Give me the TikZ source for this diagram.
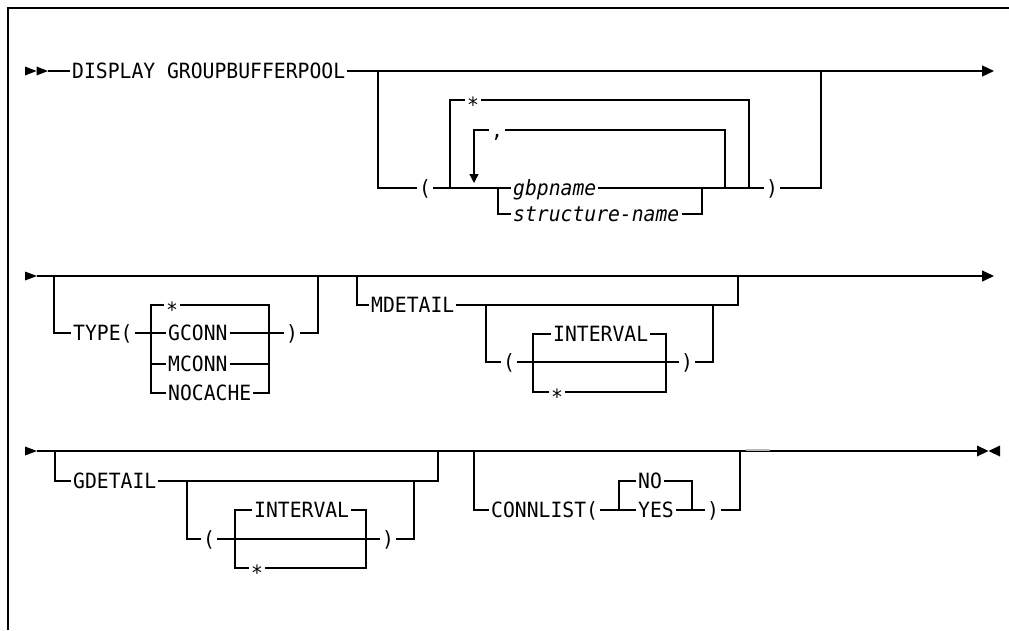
\documentclass[tikz,border=0pt]{standalone}
\usepackage{fontspec}
\usetikzlibrary{arrows.meta}
\newfontfamily\rrfont[FakeStretch=0.939]{DejaVu Sans Mono}
\begin{document}
\begin{tikzpicture}[x=1pt,y=-1pt,
  rail/.style={line width=1.3pt, line join=miter},
  kw/.style={font=\rrfont\fontsize{21}{25}\selectfont, inner xsep=1.5pt, inner ysep=0pt,
             text height=15.3pt, text depth=0pt, anchor=west},
  kwc/.style={kw, anchor=center},
  var/.style={kw, font=\rrfont\itshape\fontsize{21}{25}\selectfont},
  starnode/.style={kw, anchor=center, text height=24pt},
  endtip/.style={-{Triangle[length=12pt,width=11pt]}},
  looptip/.style={-{Triangle[length=9pt,width=9pt]}},
  headmark/.style={fill=black}
]
\useasboundingbox (0,0) rectangle (1009,630);
% frame
\draw[line width=2pt] (8,630) -- (8,8) -- (1009,8);

\begin{scope}[rail]
% ---------------- row 1 ----------------
\fill[headmark] (25,66.5) -- (36.5,71) -- (25,75.5) -- cycle;
\fill[headmark] (36.5,66.5) -- (48,71) -- (36.5,75.5) -- cycle;
\coordinate (s1) at (48,71);
\node[kw] (disp) at (70,71) {DISPLAY GROUPBUFFERPOOL};
\coordinate (e1) at (994,71);
\draw (s1) -- (disp.west);
\draw[endtip] (disp.east) -- (e1);
\coordinate (b1L) at (378,71);
\coordinate (b1R) at (821,71);
\node[kwc] (lp1) at (425,188) {(};
\node[var] (gbp) at (511,188) {gbpname};
\node[var] (sn) at (511,214) {structure-name};
\node[kwc] (rp1) at (772,188) {)};
\coordinate (j1a) at (450,188);
\coordinate (j1c) at (498,188);
\coordinate (j1d) at (702,188);
\coordinate (j1e) at (725,188);
\coordinate (j1f) at (749,188);
\coordinate (ar1) at (474,183);
\draw (b1L) |- (lp1.west);
\draw (lp1.east) -- (gbp.west);
\draw (gbp.east) -- (rp1.west);
\draw (rp1.east) -| (b1R);
\draw (j1c) |- (sn.west);
\draw (sn.east) -| (j1d);
\node[starnode] (st1) at (473,100) {*};
\draw (j1a) |- (st1.west);
\draw (st1.east) -| (j1f);
\node[kwc] (cm1) at (497,130) {,};
\draw (j1e) |- (cm1.east);
\draw[looptip] (cm1.west) -| (ar1);

% ---------------- row 2 ----------------
\fill[headmark] (25,271.5) -- (37,276) -- (25,280.5) -- cycle;
\coordinate (s2) at (37,276);
\coordinate (e2) at (994,276);
\draw[endtip] (s2) -- (e2);
\coordinate (b2a) at (54,276);
\coordinate (b2b) at (318,276);
\node[kw] (type) at (71,333) {TYPE(};
\node[starnode] (tst) at (172,305) {*};
\node[kw] (gconn) at (166,333) {GCONN};
\node[kw] (mconn) at (166,364) {MCONN};
\node[kw] (noc) at (166,393) {NOCACHE};
\node[kwc] (rp2) at (292,333) {)};
\coordinate (tLb) at (151,393);
\coordinate (tLm) at (151,364);
\coordinate (tRb) at (269,393);
\coordinate (tRm) at (269,364);
\draw (b2a) |- (type.west);
\draw (type.east) -- (gconn.west);
\draw (tst.west) -| (tLb) -- (noc.west);
\draw (tLm) -- (mconn.west);
\draw (tst.east) -| (tRb) -- (noc.east);
\draw (mconn.east) -- (tRm);
\draw (gconn.east) -- (rp2.west);
\draw (rp2.east) -| (b2b);
% MDETAIL
\coordinate (b2c) at (357,276);
\coordinate (b2d) at (738,276);
\node[kw] (md) at (369,305) {MDETAIL};
\draw (b2c) |- (md.west);
\draw (md.east) -| (b2d);
\coordinate (m1) at (486,305);
\coordinate (m2) at (713,305);
\node[kwc] (lp2) at (509,362) {(};
\node[kwc] (rp2b) at (687,362) {)};
\draw (m1) |- (lp2.west);
\draw (lp2.east) -- (rp2b.west);
\draw (rp2b.east) -| (m2);
\node[kw] (iv1) at (551,334) {INTERVAL};
\node[starnode] (ms) at (557,392) {*};
\coordinate (mlb) at (533,392);
\coordinate (mrb) at (666,392);
\draw (iv1.west) -| (mlb) -- (ms.west);
\draw (iv1.east) -| (mrb) -- (ms.east);

% ---------------- row 3 ----------------
\fill[headmark] (25,446.5) -- (37,451) -- (25,455.5) -- cycle;
\coordinate (s3) at (37,451);
\coordinate (e3) at (977,451);
\draw (s3) -- (e3);
\fill[headmark] (977,445.5) -- (988.5,451) -- (977,456.5) -- cycle;
\fill[headmark] (1000,445.5) -- (988.5,451) -- (1000,456.5) -- cycle;
\coordinate (b3a) at (55,451);
\coordinate (b3b) at (438,451);
\node[kw] (gd) at (71,481) {GDETAIL};
\draw (b3a) |- (gd.west);
\draw (gd.east) -| (b3b);
\coordinate (g1) at (187,481);
\coordinate (g2) at (414,481);
\node[kwc] (lp3) at (209,539) {(};
\node[kwc] (rp3) at (388,539) {)};
\draw (g1) |- (lp3.west);
\draw (lp3.east) -- (rp3.west);
\draw (rp3.east) -| (g2);
\node[kw] (iv2) at (252,510) {INTERVAL};
\node[starnode] (gs) at (257,568) {*};
\coordinate (glb) at (235,568);
\coordinate (grb) at (366,568);
\draw (iv2.west) -| (glb) -- (gs.west);
\draw (iv2.east) -| (grb) -- (gs.east);
% CONNLIST
\coordinate (b3c) at (474,451);
\coordinate (b3d) at (740,451);
\node[kw] (cl) at (489,510) {CONNLIST(};
\node[kw] (no) at (636,481) {NO};
\node[kw] (yes) at (636,510) {YES};
\node[kwc] (rp4) at (713,510) {)};
\coordinate (c1) at (619,510);
\coordinate (c2) at (692,510);
\draw (b3c) |- (cl.west);
\draw (cl.east) -- (yes.west);
\draw (no.west) -| (c1);
\draw (no.east) -| (c2);
\draw (yes.east) -- (rp4.west);
\draw (rp4.east) -| (b3d);
\draw[gray!55, line width=2.4pt] (746,450) -- (770,450);
\end{scope}
\end{tikzpicture}
\end{document}
